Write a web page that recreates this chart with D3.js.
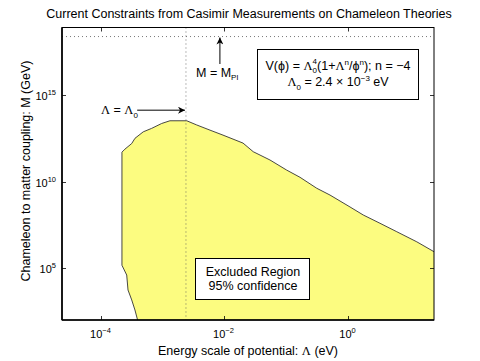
<!DOCTYPE html>
<html>
<head>
<meta charset="utf-8">
<script src="https://cdn.jsdelivr.net/npm/d3@7"></script>
<style>
  html, body { margin: 0; padding: 0; background: #fff; }
  svg text { font-family: "Liberation Sans", Arial, Helvetica, sans-serif; fill: #000; }
</style>
</head>
<body>
<svg id="chart" width="480" height="361"></svg>
<script>
// ---- data ----
// Boundary of the excluded region: Lambda (eV) and M (GeV)
const boundaryLambda = [3.97e-4, 3.59e-4, 3.18e-4, 2.77e-4, 2.64e-4, 2.21e-4, 2.21e-4, 2.47e-4, 3.18e-4, 3.59e-4,
  4.89e-4, 6.68e-4, 9.70e-4, 1.32e-3, 2.47e-3, 3.57e-3, 5.87e-3, 9.53e-3, 2.01e-2, 2.94e-2,
  5.48e-2, 0.102, 0.168, 0.313, 0.513, 1.08, 1.77, 3.30, 6.17, 13.0, 24.7];
const boundaryM = [1.0e2, 3.9e2, 1.5e3, 5.6e3, 4.1e4, 1.5e5, 5.1e11, 7.6e11, 1.6e12, 3.2e12,
  7.6e12, 1.2e13, 2.3e13, 3.3e13, 3.3e13, 1.9e13, 9.5e12, 4.9e12, 1.7e12, 5.4e11,
  1.8e11, 4.7e10, 1.8e10, 4.2e9, 1.7e9, 3.5e8, 1.2e8, 4.0e7, 1.3e7, 3.4e6, 9.1e5];
const xTicks = [1e-4, 1e-2, 1e0];
const xTickExp = ["\u22124", "\u22122", "0"];
const yTicks = [1e5, 1e10, 1e15];
const yTickExp = ["5", "10", "15"];
const xDomain = [2.37e-5, 24.7];
const yDomain = [1.04e2, 8.0e18];
const lambda0 = 2.4e-3;   // eV
const mPlanck = 2.4e18;   // GeV

// ---- layout ----
const svg = d3.select("#chart");
const L = 62, R = 434, T = 27.5, B = 320;
const x = d3.scaleLog().domain(xDomain).range([L, R]);
const y = d3.scaleLog().domain(yDomain).range([B, T]);
const SERIF = "Liberation Serif, serif";

const defs = svg.append("defs");
defs.append("clipPath").attr("id", "clip").append("rect")
  .attr("x", L).attr("y", T).attr("width", R - L).attr("height", B - T);
defs.append("marker").attr("id", "arrow").attr("viewBox", "0 0 10 10")
  .attr("refX", 10).attr("refY", 5).attr("markerWidth", 10).attr("markerHeight", 7)
  .attr("markerUnits", "userSpaceOnUse").attr("orient", "auto")
  .append("path").attr("d", "M0,0 L10,5 L0,10 L3,5 Z").attr("fill", "#000");

const g = svg.append("g").attr("clip-path", "url(#clip)");

// excluded region
const pts = boundaryLambda.map((l, i) => [l, boundaryM[i]]);
const fillPts = pts.concat([[xDomain[1], yDomain[0]]]);
const line = d3.line().x(d => x(d[0])).y(d => y(d[1]));
g.append("path").attr("d", line(fillPts) + "Z")
  .attr("fill", "#fcfc80").attr("stroke", "none");
g.append("path").attr("d", line(pts))
  .attr("fill", "none").attr("stroke", "#333").attr("stroke-width", 0.9);

// dotted reference lines
g.append("line").attr("x1", L).attr("x2", R).attr("y1", y(mPlanck)).attr("y2", y(mPlanck))
  .attr("stroke", "#555").attr("stroke-width", 0.8).attr("stroke-dasharray", "1,3");
g.append("line").attr("x1", x(lambda0)).attr("x2", x(lambda0)).attr("y1", T).attr("y2", B)
  .attr("stroke", "#555").attr("stroke-width", 0.8).attr("stroke-dasharray", "1,3");

// axes box and ticks
const tk = 4;
xTicks.forEach((t, i) => {
  const px = Math.round(x(t)) + 0.5;
  svg.append("line").attr("x1", px).attr("x2", px).attr("y1", B).attr("y2", B - tk).attr("stroke", "#000").attr("stroke-width", 0.8);
  svg.append("line").attr("x1", px).attr("x2", px).attr("y1", T).attr("y2", T + tk).attr("stroke", "#000").attr("stroke-width", 0.8);
  const tx = svg.append("text").attr("x", px - 1).attr("y", 338).attr("text-anchor", "middle").attr("font-size", 11);
  tx.append("tspan").text("10");
  tx.append("tspan").attr("dy", -5).attr("font-size", 7.5).text(xTickExp[i]);
});
yTicks.forEach((t, i) => {
  const py = Math.round(y(t)) + 0.5;
  svg.append("line").attr("x1", L).attr("x2", L + tk).attr("y1", py).attr("y2", py).attr("stroke", "#000").attr("stroke-width", 0.8);
  svg.append("line").attr("x1", R).attr("x2", R - tk).attr("y1", py).attr("y2", py).attr("stroke", "#000").attr("stroke-width", 0.8);
  const ty = svg.append("text").attr("x", 56).attr("y", py + 4).attr("text-anchor", "end").attr("font-size", 11);
  ty.append("tspan").text("10");
  ty.append("tspan").attr("dy", -5).attr("font-size", 7.5).text(yTickExp[i]);
});
svg.append("rect").attr("x", L).attr("y", T).attr("width", R - L).attr("height", B - T)
  .attr("fill", "none").attr("stroke", "#000").attr("stroke-width", 1);
svg.append("line").attr("x1", L).attr("x2", R).attr("y1", B).attr("y2", B).attr("stroke", "#000").attr("stroke-width", 1.6);
svg.append("line").attr("x1", L).attr("x2", L).attr("y1", T).attr("y2", B).attr("stroke", "#000").attr("stroke-width", 1.6);

// title & labels
svg.append("text").attr("x", 249).attr("y", 18).attr("text-anchor", "middle").attr("font-size", 12.5)
  .text("Current Constraints from Casimir Measurements on Chameleon Theories");
const xl = svg.append("text").attr("x", 248).attr("y", 355).attr("text-anchor", "middle").attr("font-size", 12.5);
xl.append("tspan").text("Energy scale of potential: ");
xl.append("tspan").attr("font-family", SERIF).text("\u039B");
xl.append("tspan").text(" (eV)");
svg.append("text").attr("transform", "translate(30,171) rotate(-90)").attr("text-anchor", "middle").attr("font-size", 12.5)
  .text("Chameleon to matter coupling: M (GeV)");

// annotation: M = M_Pl
const axMpl = x(8.5e-3);
svg.append("line").attr("x1", axMpl).attr("x2", axMpl).attr("y1", 64).attr("y2", y(mPlanck) + 1)
  .attr("stroke", "#000").attr("stroke-width", 1).attr("marker-end", "url(#arrow)");
const mt = svg.append("text").attr("x", 196).attr("y", 77).attr("font-size", 12.5);
mt.append("tspan").text("M = M");
mt.append("tspan").attr("dy", 3).attr("font-size", 8).text("Pl");

// annotation: Lambda = Lambda0
const ayL = y(1.35e14);
svg.append("line").attr("x1", x(3.9e-4)).attr("x2", x(lambda0) - 1).attr("y1", ayL).attr("y2", ayL)
  .attr("stroke", "#000").attr("stroke-width", 1).attr("marker-end", "url(#arrow)");
const lt = svg.append("text").attr("x", 101).attr("y", ayL + 4).attr("font-size", 12.5);
lt.append("tspan").attr("font-family", SERIF).text("\u039B");
lt.append("tspan").text(" = ");
lt.append("tspan").attr("font-family", SERIF).text("\u039B");
lt.append("tspan").attr("dy", 4).attr("font-size", 8).text("0");

// formula box
svg.append("rect").attr("x", 257.5).attr("y", 49.5).attr("width", 161).attr("height", 50)
  .attr("fill", "#fff").attr("stroke", "#000").attr("stroke-width", 1);
const f1 = svg.append("text").attr("x", 338).attr("y", 70).attr("text-anchor", "middle").attr("font-size", 12.5);
f1.append("tspan").text("V(\u03D5) = ");
f1.append("tspan").attr("font-family", SERIF).text("\u039B");
f1.append("tspan").attr("dy", -6).attr("font-size", 8).text("4");
f1.append("tspan").attr("dx", -4.4).attr("dy", 9).attr("font-size", 8).text("0");
f1.append("tspan").attr("dy", -3).text("(1+");
f1.append("tspan").attr("font-family", SERIF).text("\u039B");
f1.append("tspan").attr("dy", -5).attr("font-size", 8).text("n");
f1.append("tspan").attr("dy", 5).text("/\u03D5");
f1.append("tspan").attr("dy", -5).attr("font-size", 8).text("n");
f1.append("tspan").attr("dy", 5).text("); n = \u22124");
const f2 = svg.append("text").attr("x", 338).attr("y", 86).attr("text-anchor", "middle").attr("font-size", 12.5);
f2.append("tspan").attr("font-family", SERIF).text("\u039B");
f2.append("tspan").attr("dy", 4).attr("font-size", 8).text("0");
f2.append("tspan").attr("dy", -4).text(" = 2.4 \u00D7 10");
f2.append("tspan").attr("dy", -5).attr("font-size", 8).text("\u22123");
f2.append("tspan").attr("dy", 5).text(" eV");

// excluded region label box
svg.append("rect").attr("x", 195.5).attr("y", 258.5).attr("width", 114).attr("height", 41)
  .attr("fill", "#fff").attr("stroke", "#000").attr("stroke-width", 1);
svg.append("text").attr("x", 253).attr("y", 275.5).attr("text-anchor", "middle").attr("font-size", 12.5).text("Excluded Region");
svg.append("text").attr("x", 253).attr("y", 290).attr("text-anchor", "middle").attr("font-size", 12.5).text("95% confidence");
</script>
</body>
</html>
